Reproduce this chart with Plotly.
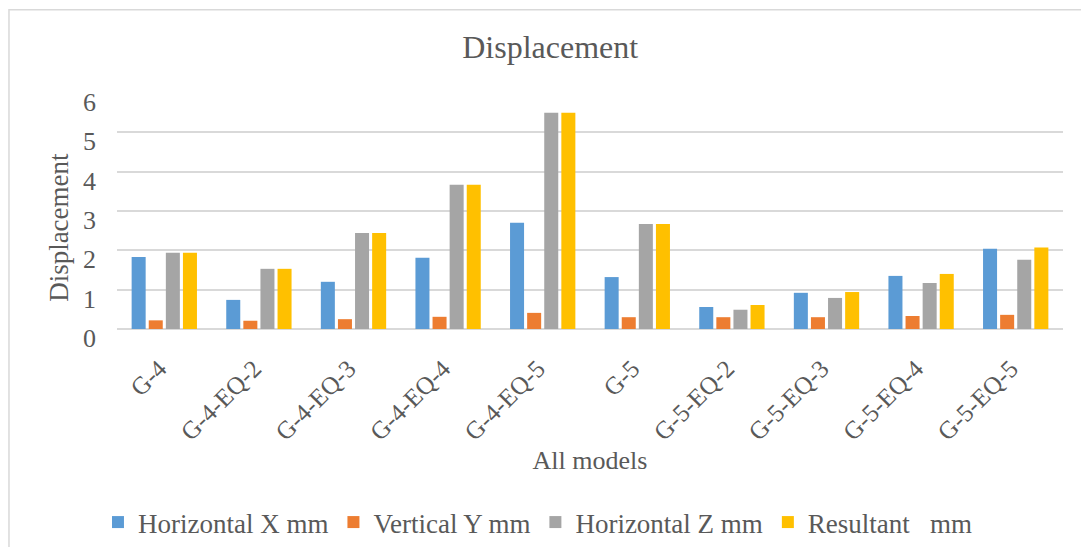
import plotly.graph_objects as go

# Models on the x axis
models = ["G-4", "G-4-EQ-2", "G-4-EQ-3", "G-4-EQ-4", "G-4-EQ-5",
          "G-5", "G-5-EQ-2", "G-5-EQ-3", "G-5-EQ-4", "G-5-EQ-5"]

# Displacement components (mm)
horizontal_x = [1.83, 0.74, 1.20, 1.81, 2.70, 1.32, 0.56, 0.92, 1.35, 2.04]
vertical_y = [0.22, 0.21, 0.25, 0.31, 0.41, 0.30, 0.30, 0.30, 0.33, 0.36]
horizontal_z = [1.94, 1.53, 2.44, 3.67, 5.50, 2.67, 0.49, 0.79, 1.17, 1.76]
resultant = [1.94, 1.53, 2.44, 3.67, 5.50, 2.67, 0.61, 0.94, 1.40, 2.07]

series_names = ["Horizontal X mm", "Vertical Y mm", "Horizontal Z mm",
                "Resultant\u00a0\u00a0\u00a0mm"]
series_colors = ["#5b9bd5", "#ed7d31", "#a5a5a5", "#ffc000"]

FONT = "Liberation Serif"
TEXT = "#595959"
GRID = "#d9d9d9"


def serif(size):
    return dict(family=FONT, size=size, color=TEXT)


fig = go.Figure()
for name, vals, col in zip(series_names,
                           [horizontal_x, vertical_y, horizontal_z, resultant],
                           series_colors):
    fig.add_trace(go.Bar(x=models, y=vals, name=name, marker_color=col,
                         marker_line_width=0))

fig.update_layout(
    width=1081, height=547,
    margin=dict(l=117, r=18, t=93, b=218, autoexpand=False),
    paper_bgcolor="white", plot_bgcolor="white",
    barmode="group", bargap=0.277, bargroupgap=0.18,
    font=serif(24),
    title=dict(text="Displacement", xref="container", x=0.509,
               xanchor="center", y=0.915, yanchor="middle", font=serif(32)),
    legend=dict(orientation="h", x=0.445, xanchor="center", y=-0.82,
                yanchor="middle", font=serif(27),
                itemwidth=30, tracegroupgap=0),
    xaxis=dict(tickangle=-45, showgrid=False, showline=False, ticks="",
               automargin=False, ticklabelstandoff=19, ticklabelshift=-5,
               tickfont=serif(25),
               title=dict(text="All models", font=serif(26), standoff=0)),
    yaxis=dict(range=[0, 6], dtick=1, showgrid=True, gridcolor=GRID,
               gridwidth=1.5, zeroline=True, zerolinecolor=GRID,
               zerolinewidth=1.5, ticks="", ticklabelstandoff=20,
               automargin=False, ticklabelshift=9, tickfont=serif(26),
               title=dict(text="")),
    annotations=[dict(text="Displacement", xref="paper", yref="paper",
                      x=-0.062, y=0.43, xanchor="center", yanchor="middle",
                      textangle=-90, showarrow=False, font=serif(27))],
)

# Chart frame
fig.add_shape(type="rect", xref="paper", yref="paper",
              x0=-0.1142, x1=1.2, y0=-1.2, y1=1.353,
              line=dict(color=GRID, width=1.5), fillcolor="rgba(0,0,0,0)",
              layer="below")

fig.write_html("out.html")
